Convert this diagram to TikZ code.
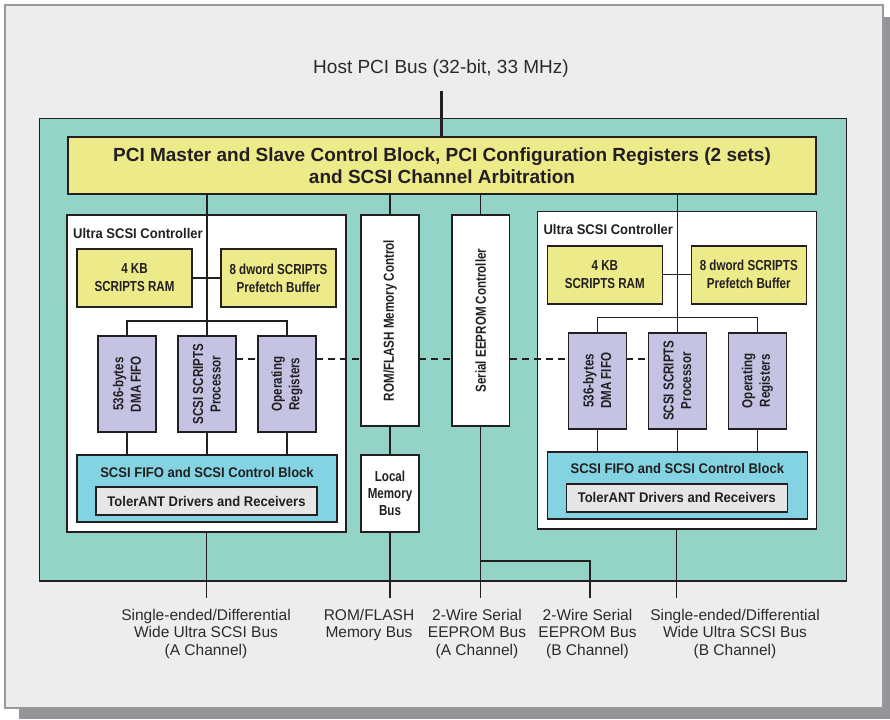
\documentclass[tikz,border=0pt]{standalone}
\usepackage{fontspec}
\setmainfont{Liberation Sans}
\newfontfamily\cnd[FakeStretch=0.8]{Liberation Sans}
\newfontfamily\cndt[FakeStretch=0.93]{Liberation Sans}
\usetikzlibrary{calc}
\definecolor{panel}{HTML}{EDEDED}
\definecolor{shadowc}{HTML}{939598}
\definecolor{panelborder}{HTML}{9A9A9A}
\definecolor{tealc}{HTML}{93D4C7}
\definecolor{ylw}{HTML}{EDEA8A}
\definecolor{lav}{HTML}{C4C3E3}
\definecolor{cyn}{HTML}{83D3E2}
\definecolor{lgray}{HTML}{E6E6E6}
\definecolor{ink}{HTML}{231F20}
\definecolor{lbltext}{HTML}{2B2B2B}
\tikzset{
  box/.style={draw=ink, line width=1.6pt, inner sep=0pt, outer sep=0pt, anchor=north west,
    align=center, text=ink, font=\cnd\bfseries\fontsize{14.5}{18}\selectfont},
  vtxt/.style={rotate=90, align=center, inner sep=0pt, text=ink, font=\cnd\bfseries\fontsize{14.5}{17.5}\selectfont},
  ttl/.style={inner sep=0pt, text=ink, font=\cndt\bfseries\fontsize{14}{16}\selectfont},
  conn/.style={draw=ink, line width=1.3pt},
  dsh/.style={draw=ink, line width=1.3pt, dash pattern=on 7pt off 5pt},
  buslbl/.style={anchor=north, align=center, inner sep=0pt, text=lbltext,
    font=\fontsize{15.5}{17.5}\selectfont},
}
\newcommand{\ulctrl}[2]{%
\begin{scope}[shift={#2}]
  \node[box, fill=white, minimum width=279pt, minimum height=317pt] (#1ctrl) at (0,0) {};
  \node[ttl, anchor=west] (#1title) at (6,18) {Ultra SCSI Controller};
  \node[box, fill=ylw, minimum width=115pt, minimum height=58pt] (#1ram) at (10,34) {4 KB\\SCRIPTS RAM};
  \node[box, fill=ylw, minimum width=115pt, minimum height=58pt] (#1pre) at (154,34) {8 dword SCRIPTS\\Prefetch Buffer};
  \node[box, fill=lav, minimum width=58pt, minimum height=96pt] (#1dma) at (31,121) {};
  \node[box, fill=lav, minimum width=58pt, minimum height=96pt] (#1proc) at (111,121) {};
  \node[box, fill=lav, minimum width=58pt, minimum height=96pt] (#1op) at (191,121) {};
  \node[vtxt] (#1dmat) at (#1dma) {536-bytes\\DMA FIFO};
  \node[vtxt] (#1proct) at (#1proc) {SCSI SCRIPTS\\Processor};
  \node[vtxt] (#1opt) at (#1op) {Operating\\Registers};
  \node[box, fill=cyn, minimum width=260pt, minimum height=67pt] (#1fifo) at (10,240) {};
  \node[ttl] (#1fifot) at (140,257) {SCSI FIFO and SCSI Control Block};
  \node[box, fill=lgray, minimum width=221pt, minimum height=28pt, font=\cndt\bfseries\fontsize{14}{15}\selectfont] (#1tol) at (29,272) {TolerANT Drivers and Receivers};
\end{scope}
\draw[conn] (pci.south -| #1proc.north) -- (#1proc.north);
\draw[conn] (#1ram.east) -- (#1pre.west);
\draw[conn] (#1dma.north) -- ++(0,-15) -| (#1op.north);
\draw[conn] (#1dma.south) -- (#1dma.south |- #1fifo.north);
\draw[conn] (#1proc.south) -- (#1proc.south |- #1fifo.north);
\draw[conn] (#1op.south) -- (#1op.south |- #1fifo.north);
\draw[conn] (#1ctrl.south) -- (#1ctrl.south |- busend);
}
\begin{document}
\begin{tikzpicture}[x=1pt,y=-1pt]
\useasboundingbox (0,0) rectangle (890,719);
% panel with shadow
\fill[shadowc] (19,17) rectangle (890,719);
\draw[panelborder, fill=panel, line width=1.5pt] (5,5) rectangle (883,708);
% main teal box
\node[draw=ink, fill=tealc, line width=1.5pt, anchor=north west, inner sep=0pt, minimum width=807pt, minimum height=462pt] (chip) at (38.5,118) {};
% host label
\node[inner sep=0pt, text=lbltext, font=\fontsize{19}{21}\selectfont] (host) at (441,69) {Host PCI Bus (32-bit, 33 MHz)};
\coordinate (hosttop) at (441,91);
\coordinate (busend) at (0,598);
\coordinate (dashy) at (0,359);
\coordinate (branch) at (590,561);
% PCI block
\node[box, fill=ylw, minimum width=748pt, minimum height=57pt, font=\bfseries\fontsize{19}{21.5}\selectfont] (pci) at (68,137)
  {PCI Master and Slave Control Block, PCI Configuration Registers (2 sets)\\and SCSI Channel Arbitration};
\draw[draw=ink, line width=3pt] (hosttop) -- (hosttop |- pci.north);
% middle column
\node[box, fill=white, minimum width=58pt, minimum height=211pt] (rom) at (361,215) {};
\node[vtxt] (romt) at (rom) {ROM/FLASH Memory Control};
\node[box, fill=white, minimum width=58pt, minimum height=77pt, font=\cnd\bfseries\fontsize{14.5}{16.7}\selectfont] (lmb) at (361,455) {Local\\Memory\\Bus};
\node[box, fill=white, minimum width=57.5pt, minimum height=211pt] (eep) at (452,215) {};
\node[vtxt] (eept) at (eep) {Serial EEPROM Controller};
\draw[conn] (pci.south -| rom.north) -- (rom.north);
\draw[conn] (rom.south) -- (lmb.north);
\draw[conn] (lmb.south) -- (lmb.south |- busend);
\draw[conn] (pci.south -| eep.north) -- (eep.north);
\draw[conn] (eep.south) -- (eep.south |- busend);
\draw[conn] (eep.south |- branch) -- (branch) -- (branch |- busend);
% controllers
\ulctrl{A}{(67,215)}
\ulctrl{B}{(537.3,211.7)}
% dashed link
\draw[dsh] (Aproc.east |- dashy) -- (Aop.west |- dashy);
\draw[dsh] (Aop.east |- dashy) -- (rom.west |- dashy);
\draw[dsh] (rom.east |- dashy) -- (eep.west |- dashy);
\draw[dsh] (eep.east |- dashy) -- (Bdma.west |- dashy);
\draw[dsh] (Bdma.east |- dashy) -- (Bproc.west |- dashy);
% bus labels
\node[buslbl] (lblA) at (206,609) {Single-ended/Differential\\Wide Ultra SCSI Bus\\(A Channel)};
\node[buslbl] (lblR) at (369,609) {ROM/FLASH\\Memory Bus};
\node[buslbl] (lblEA) at (477,609) {2-Wire Serial\\EEPROM Bus\\(A Channel)};
\node[buslbl] (lblEB) at (587.5,609) {2-Wire Serial\\EEPROM Bus\\(B Channel)};
\node[buslbl] (lblB) at (735,609) {Single-ended/Differential\\Wide Ultra SCSI Bus\\(B Channel)};
\end{tikzpicture}
\end{document}
